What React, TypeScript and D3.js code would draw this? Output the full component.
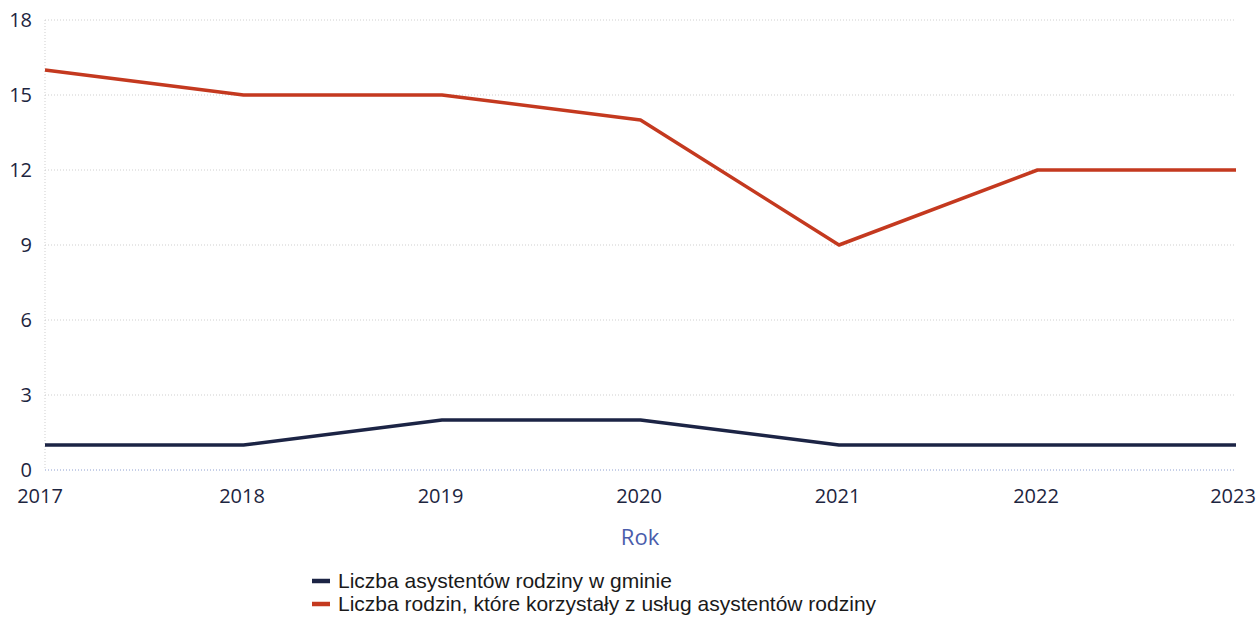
import React from "react";
import * as d3 from "d3";

const years = ["2017", "2018", "2019", "2020", "2021", "2022", "2023"];
const assistants = [1, 1, 2, 2, 1, 1, 1];
const families = [16, 15, 15, 14, 9, 12, 12];
const yTicks = [0, 3, 6, 9, 12, 15, 18];
const seriesNames = [
  "Liczba asystentów rodziny w gminie",
  "Liczba rodzin, które korzystały z usług asystentów rodziny",
];
const colors = ["#1c2445", "#c4391f"];

export default function App() {
  const W = 1260, H = 618;
  const x = d3.scalePoint<string>().domain(years).range([45, 1236]);
  const y = d3.scaleLinear().domain([0, 18]).range([470, 20]);
  const line = d3.line<number>().x((_, i) => x(years[i])!).y((d) => y(d));
  const series = [assistants, families];
  const tickColor = "#1d2540";
  const labelX = (i: number) => {
    const px = x(years[i])!;
    if (i === 0) return px - 5;
    if (i === years.length - 1) return px - 3;
    return px - 1.5;
  };
  return (
    <svg width={W} height={H} style={{ position: "absolute", left: 0, top: 0, background: "#fff" }}>
      {yTicks.map((t) => (
        <g key={t}>
          <line x1={45} x2={1236} y1={y(t)} y2={y(t)}
            stroke={t === 0 ? "#8e9fd0" : "#cfcfcf"} strokeWidth={1} strokeDasharray="1,2" />
          <text x={32} y={y(t)} dy="0.35em" textAnchor="end" fontFamily="Open Sans" fontSize={20} fill={tickColor}>{t}</text>
        </g>
      ))}
      <line x1={45} x2={45} y1={20} y2={470} stroke="#cfcfcf" strokeDasharray="1,2" />
      {years.map((yr, i) => (
        <text key={yr} x={labelX(i)} y={503} textAnchor="middle" fontFamily="Open Sans" fontSize={20} fill={tickColor}>{yr}</text>
      ))}
      <text x={640} y={545} textAnchor="middle" fontFamily="Open Sans" fontSize={22} fill="#4a5cab">Rok</text>
      {series.map((s, i) => (
        <path key={i} d={line(s)!} fill="none" stroke={colors[i]} strokeWidth={3.5} strokeLinejoin="round" />
      ))}
      {seriesNames.map((n, i) => (
        <g key={n} transform={`translate(312, ${581 + i * 23})`}>
          <line x1={0} x2={18} y1={0} y2={0} stroke={colors[i]} strokeWidth={4.5} />
          <text x={26} y={0} dy="0.35em" fontFamily="Liberation Sans" fontSize={21} fill="#1a1a1a">{n}</text>
        </g>
      ))}
    </svg>
  );
}
